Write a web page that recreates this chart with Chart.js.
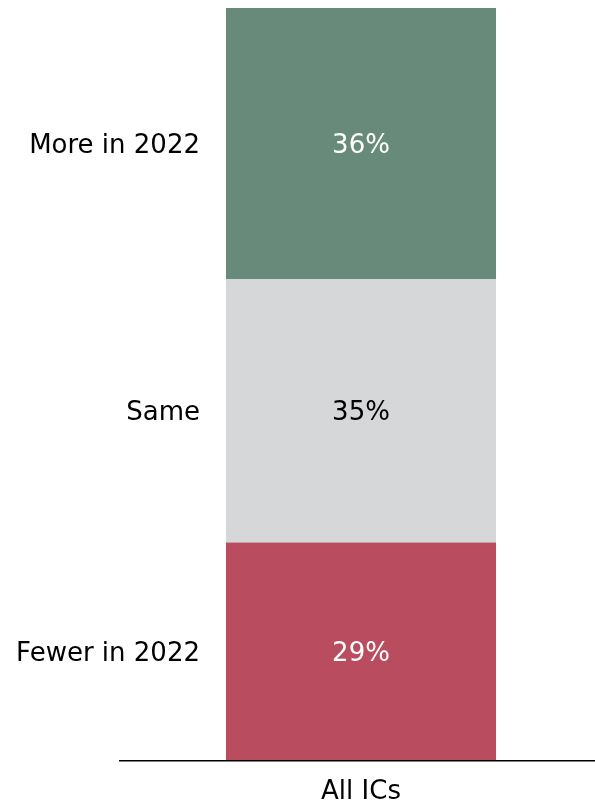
<!DOCTYPE html>
<html>
<head>
<meta charset="utf-8">
<script src="https://cdn.jsdelivr.net/npm/chart.js@4"></script>
<style>
  html, body { margin: 0; padding: 0; background: #fff; }
  #wrap { width: 595px; height: 803px; }
</style>
</head>
<body>
<div id="wrap"><canvas id="myChart"></canvas></div>
<script>
const categories = ["All ICs"];
const answers = ["Fewer in 2022", "Same", "More in 2022"];
const fewer = [29];
const same = [35];
const more = [36];
const colors = ["#b94c5e", "#d6d7d9", "#678a7b"];
const labelColors = ["#ffffff", "#000000", "#ffffff"];

const FONT = "'DejaVu Sans', Verdana, sans-serif";

// baseline runs a bit further left than the plot area
const baseline = {
  id: "baseline",
  afterDatasetsDraw(chart) {
    const c = chart.ctx;
    const y0 = chart.scales.y.getPixelForValue(0);
    c.save();
    c.strokeStyle = "#000";
    c.lineWidth = 1.5;
    c.beginPath();
    c.moveTo(119, y0);
    c.lineTo(chart.width, y0);
    c.stroke();
    c.restore();
  }
};

// percent text inside each segment + answer names on the left
const segmentLabels = {
  id: "segmentLabels",
  afterDatasetsDraw(chart) {
    const c = chart.ctx;
    c.save();
    c.font = "26px " + FONT;
    c.textBaseline = "middle";
    chart.data.datasets.forEach((ds, i) => {
      const bar = chart.getDatasetMeta(i).data[0];
      const mid = (bar.y + bar.base) / 2 + 3;
      c.fillStyle = labelColors[i];
      c.textAlign = "center";
      c.fillText(ds.data[0] + "%", bar.x, mid);
      c.fillStyle = "#000";
      c.textAlign = "right";
      c.fillText(ds.label, 200, mid);
    });
    c.restore();
  }
};

const seriesValues = [fewer, same, more];

new Chart(document.getElementById("myChart"), {
  type: "bar",
  data: {
    labels: categories,
    datasets: seriesValues.map((vals, i) => ({
      label: answers[i],
      data: vals,
      backgroundColor: colors[i],
      borderWidth: 0,
      barPercentage: 1,
      categoryPercentage: 0.577
    }))
  },
  options: {
    responsive: true,
    maintainAspectRatio: false,
    animation: false,
    layout: { padding: { top: 8, left: 127, right: 0, bottom: -13 } },
    plugins: { legend: { display: false }, tooltip: { enabled: false } },
    scales: {
      x: {
        stacked: true,
        grid: { display: false },
        border: { display: false },
        ticks: { color: "#000", font: { family: FONT, size: 26 }, padding: 8 }
      },
      y: {
        stacked: true,
        display: false,
        min: 0,
        max: 100
      }
    }
  },
  plugins: [baseline, segmentLabels]
});
</script>
</body>
</html>
